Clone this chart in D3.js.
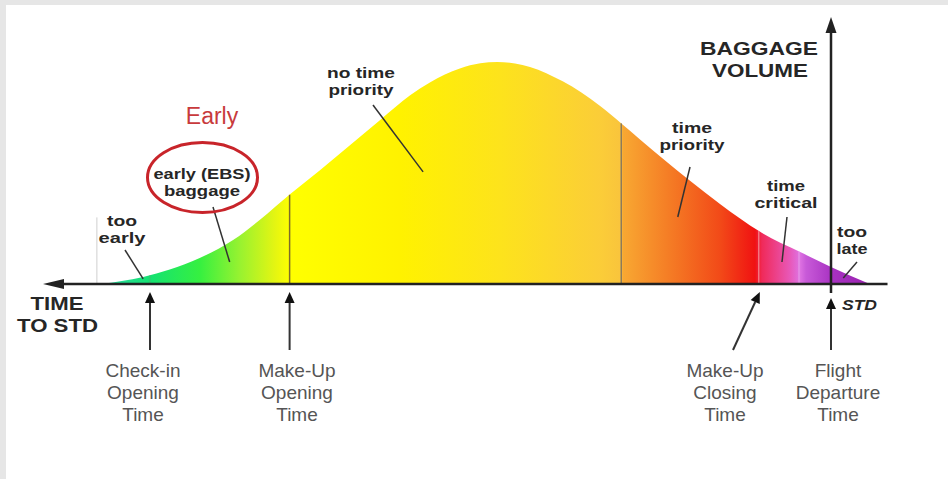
<!DOCTYPE html>
<meta charset="utf-8">
<script src="https://d3js.org/d3.v7.min.js"></script>
<style>body{margin:0;background:#fff;}</style>
<div id="my_dataviz"></div>
<script>

// time to STD (100 = check-in opening, 0 = STD) and relative baggage volume
var timeToStd = [107.3, 101, 97.1, 92.7, 87.8, 83.9, 79.4, 75, 70.6, 66.2, 61.8, 58.9, 54.5, 51.5, 49, 46.4, 44.2, 39.4, 33.9, 30.7, 28, 24.1, 20.7, 16.3, 10.4, 4.6, 0, -5.7];
var baggageVolume = [0, 3.2, 6.5, 11.7, 19.8, 28.8, 40.5, 51.4, 62.6, 73.9, 85, 90.8, 97.1, 99.4, 100, 99.3, 97.8, 91.3, 80.2, 72.1, 65, 55, 46.5, 36, 23.5, 14.5, 7.7, 0];

var milestoneNames = [["Check-in", "Opening", "Time"], ["Make-Up", "Opening", "Time"], ["Make-Up", "Closing", "Time"], ["Flight", "Departure", "Time"]];
var milestoneTimes = [100, 79.5, 10.6, 0];

var zoneNames = [["too", "early"], ["early (EBS)", "baggage"], ["no time", "priority"], ["time", "priority"], ["time", "critical"], ["too", "late"]];
var zoneBounds = [107.8, 100, 79.5, 30.8, 10.6, 4.7];
var tooEarlyMark = [30];

var width = 948, height = 479;

var svg = d3.select("#my_dataviz")
  .append("svg")
    .attr("width", width)
    .attr("height", height)
    .style("display", "block");

// grey frame like the screenshot
svg.append("rect").attr("x", 0).attr("y", 0).attr("width", width).attr("height", 5).attr("fill", "#e6e6e6");
svg.append("rect").attr("x", 0).attr("y", 0).attr("width", 6).attr("height", height).attr("fill", "#e6e6e6");

// scales: time runs right to left
var x = d3.scaleLinear().domain([0, 100]).range([831, 150]);
var y = d3.scaleLinear().domain([0, 100]).range([284, 62]);

var data = timeToStd.map(function(t, i) { return {t: t, v: baggageVolume[i]}; });

// colour gradient along the time axis
var x0 = x(timeToStd[0]), x1 = x(timeToStd[timeToStd.length - 1]);
var stops = [
  [100, "#30d8a8"], [150, "#14e272"], [200, "#36f040"], [240, "#98f230"], [275, "#e4f512"],
  [290, "#ffff00"], [400, "#fff200"], [500, "#fde31c"], [600, "#fbcd38"], [621, "#f9c43c"],
  [623, "#f8a832"], [680, "#f47222"], [720, "#f24a18"], [755, "#f01212"], [762, "#f02a5a"],
  [790, "#e858b8"], [800, "#de72e2"], [806, "#c85ad8"], [832, "#a832c2"], [870, "#9a22b0"]
];
var grad = svg.append("defs").append("linearGradient")
  .attr("id", "bagGrad")
  .attr("gradientUnits", "userSpaceOnUse")
  .attr("x1", x0).attr("x2", x1).attr("y1", 0).attr("y2", 0);
grad.selectAll("stop").data(stops).enter().append("stop")
  .attr("offset", function(d) { return (d[0] - x0) / (x1 - x0); })
  .attr("stop-color", function(d) { return d[1]; });

var area = d3.area()
  .x(function(d) { return x(d.t); })
  .y0(y(0))
  .y1(function(d) { return y(d.v); })
  .curve(d3.curveMonotoneX);

svg.append("path")
  .datum(data)
  .attr("d", area)
  .attr("fill", "url(#bagGrad)");

// hidden top line to read curve height at any x
var line = d3.line().x(function(d) { return x(d.t); }).y(function(d) { return y(d.v); }).curve(d3.curveMonotoneX);
var topPath = svg.append("path").datum(data).attr("d", line).attr("fill", "none").attr("stroke", "none").node();
var len = topPath.getTotalLength(), samples = [];
for (var s = 0; s <= len; s += 0.5) samples.push(topPath.getPointAtLength(s));
function curveY(px) {
  var best = samples[0];
  samples.forEach(function(p) { if (Math.abs(p.x - px) < Math.abs(best.x - px)) best = p; });
  return best.y;
}

// zone boundaries
var boundStyle = [
  {c: "#cfcfcf", w: 1}, {c: "#3fbf70", w: 1}, {c: "#7d6b2c", w: 1.5},
  {c: "#8c7a5c", w: 1.5}, {c: "#f4a0a0", w: 1}, {c: "#e7a0e8", w: 1}
];
svg.selectAll("line.bound")
  .data(zoneBounds)
  .enter().append("line")
    .attr("x1", function(d) { return x(d); })
    .attr("x2", function(d) { return x(d); })
    .attr("y1", y(0))
    .attr("y2", function(d, i) { return i === 0 ? y(tooEarlyMark[0]) : curveY(x(d)); })
    .attr("stroke", function(d, i) { return boundStyle[i].c; })
    .attr("stroke-width", function(d, i) { return boundStyle[i].w; });

// axes
svg.append("line").attr("x1", 60).attr("x2", x(-8.3)).attr("y1", y(0)).attr("y2", y(0))
  .attr("stroke", "#222").attr("stroke-width", 2.5);
svg.append("path").attr("d", "M43," + y(0) + "L64," + (y(0) - 5) + "L64," + (y(0) + 5) + "Z").attr("fill", "#222");
svg.append("line").attr("x1", x(0)).attr("x2", x(0)).attr("y1", 30).attr("y2", 293)
  .attr("stroke", "#222").attr("stroke-width", 2.5);
svg.append("path").attr("d", "M" + x(0) + ",17L" + (x(0) - 5.5) + ",33L" + (x(0) + 5.5) + ",33Z").attr("fill", "#222");

// milestone arrows
var arrowFrom = [[x(100), 350], [x(79.5), 350], [733, 350], [x(0), 350]];
milestoneTimes.forEach(function(t, i) {
  var tx = x(t) + (i === 2 ? 1 : 0), ty = i === 3 ? 298 : 292;
  var fx = arrowFrom[i][0], fy = arrowFrom[i][1];
  var dx = tx - fx, dy = ty - fy, L = Math.sqrt(dx * dx + dy * dy);
  var ux = dx / L, uy = dy / L, hl = 11, hw = 5;
  var bx = tx - ux * hl, by = ty - uy * hl;
  svg.append("line").attr("x1", fx).attr("y1", fy).attr("x2", bx).attr("y2", by)
    .attr("stroke", "#333").attr("stroke-width", 2);
  svg.append("path")
    .attr("d", "M" + tx + "," + ty + "L" + (bx - uy * hw) + "," + (by + ux * hw) + "L" + (bx + uy * hw) + "," + (by - ux * hw) + "Z")
    .attr("fill", "#111");
});

// milestone labels
var labelCx = [143, 297, 725, 838];
milestoneNames.forEach(function(lines, i) {
  lines.forEach(function(txt, j) {
    svg.append("text")
      .attr("x", labelCx[i]).attr("y", 377 + j * 22)
      .attr("text-anchor", "middle")
      .style("font-family", "'Liberation Sans', Arial, sans-serif")
      .style("font-size", "19px")
      .attr("fill", "#555")
      .text(txt);
  });
});

function boldText(txt, cx, by, size, w, anchor) {
  return svg.append("text")
    .attr("x", cx).attr("y", by)
    .attr("text-anchor", anchor || "middle")
    .attr("textLength", w)
    .attr("lengthAdjust", "spacingAndGlyphs")
    .style("font-family", "'Liberation Sans', Arial, sans-serif")
    .style("font-weight", "bold")
    .style("font-size", size + "px")
    .attr("fill", "#262626")
    .text(txt);
}

// axis titles
boldText("BAGGAGE", 759, 55, 18, 118);
boldText("VOLUME", 760, 77, 18, 96);
boldText("TIME", 57, 310, 18, 53);
boldText("TO STD", 57.5, 332, 18, 81);
boldText("STD", 842, 310, 15, 35, "start").style("font-style", "italic");

// zone annotations with pointers
var notes = [
  {cx: 122, y: 226, w: [30, 47], from: [125, 250], to: [101, 2.3]},
  {cx: 202, y: 179, w: [97, 76], from: [213, 207], to: [88.3, 9.9]},
  {cx: 361, y: 78, w: [68, 65], from: [373, 105], to: [59.9, 50.5]},
  {cx: 692, y: 133, w: [40, 65], from: [690, 167], to: [22.5, 30.2]},
  {cx: 786, y: 191, w: [38, 63], from: [787, 217], to: [7.2, 9.9]},
  {cx: 852, y: 237, w: [30, 31], from: [857, 262], to: [-1.8, 2.7]}
];
zoneNames.forEach(function(lines, i) {
  var n = notes[i];
  lines.forEach(function(txt, j) { boldText(txt, n.cx, n.y + j * 17, 15, n.w[j]); });
  svg.append("line")
    .attr("x1", n.from[0]).attr("y1", n.from[1])
    .attr("x2", x(n.to[0])).attr("y2", y(n.to[1]))
    .attr("stroke", "#333").attr("stroke-width", 1.5);
});

// "Early" highlight
svg.append("ellipse").attr("cx", 202.5).attr("cy", 177.5).attr("rx", 55).attr("ry", 35)
  .attr("fill", "none").attr("stroke", "#c8242a").attr("stroke-width", 3);
svg.append("text").attr("x", 212).attr("y", 124).attr("text-anchor", "middle")
  .style("font-family", "'Liberation Sans', Arial, sans-serif")
  .style("font-size", "23px")
  .attr("fill", "#c83a3c")
  .text("Early");

</script>
